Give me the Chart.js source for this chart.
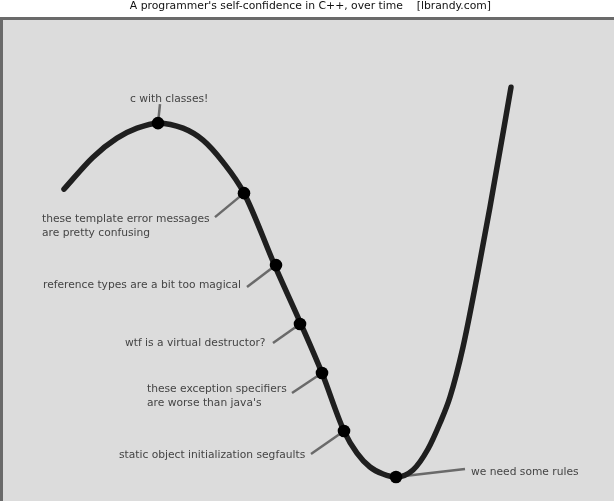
<!DOCTYPE html>
<html>
<head>
<meta charset="utf-8">
<script src="https://cdn.jsdelivr.net/npm/chart.js@4/dist/chart.umd.min.js"></script>
<style>
  html, body { margin: 0; padding: 0; background: #ffffff; }
  #c { display: block; }
</style>
</head>
<body>
<canvas id="c" width="614" height="501"></canvas>
<script>
// ---- data (time on x, confidence on y) ----
const curveX = [64, 93, 117, 137, 158, 183, 203, 223, 244, 275, 301, 322, 344, 357, 370, 383, 396, 413, 428, 440, 450, 463, 477, 490, 511];
const curveY = [312, 344, 363, 373, 378, 373, 361, 339, 308, 235, 177, 128, 70, 48, 34, 27, 24, 31, 52, 78, 104, 154, 224, 294, 414];

const eventX = [158, 244, 276, 300, 322, 344, 396];
const eventY = [378, 308, 236, 177, 128, 70, 24];
const eventText = [
  ["c with classes!"],
  ["these template error messages", "are pretty confusing"],
  ["reference types are a bit too magical"],
  ["wtf is a virtual destructor?"],
  ["these exception specifiers", "are worse than java's"],
  ["static object initialization segfaults"],
  ["we need some rules"]
];
// label anchor (left x, baseline of first line)
const labelX = [130, 42, 43, 125, 147, 119, 471];
const labelY = [399, 279, 213, 155, 109, 43, 26];
// leader line start points (end at the event point)
const leaderX = [160, 215, 247, 273, 292, 311, 465];
const leaderY = [397, 284, 214, 158, 108, 47, 32];

const titleText = "\u00a0\u00a0A programmer's self-confidence in C++, over time\u00a0\u00a0\u00a0\u00a0[lbrandy.com]";

const FONT = '"DejaVu Sans", "Liberation Sans", sans-serif';

const boxPlugin = {
  id: 'box',
  beforeDraw(chart) {
    const ctx = chart.ctx;
    const a = chart.chartArea;
    ctx.save();
    ctx.fillStyle = '#ffffff';
    ctx.fillRect(0, 0, chart.width, chart.height);
    ctx.fillStyle = '#dcdcdc';
    ctx.fillRect(0, Math.round(a.top), chart.width, chart.height);
    ctx.strokeStyle = '#6a6a6a';
    ctx.lineWidth = 3;
    ctx.beginPath();
    ctx.moveTo(1.5, chart.height + 5);
    ctx.lineTo(1.5, Math.round(a.top) + 1.5);
    ctx.lineTo(chart.width + 5, Math.round(a.top) + 1.5);
    ctx.stroke();
    ctx.restore();
  },
  beforeDatasetsDraw(chart) {
    const ctx = chart.ctx;
    const xs = chart.scales.x, ys = chart.scales.y;
    ctx.save();
    ctx.strokeStyle = '#6a6a6a';
    ctx.lineWidth = 2.5;
    for (let i = 0; i < eventX.length; i++) {
      ctx.beginPath();
      ctx.moveTo(xs.getPixelForValue(leaderX[i]), ys.getPixelForValue(leaderY[i]));
      ctx.lineTo(xs.getPixelForValue(eventX[i]), ys.getPixelForValue(eventY[i]));
      ctx.stroke();
    }
    ctx.restore();
  },
  afterDatasetsDraw(chart) {
    const ctx = chart.ctx;
    const xs = chart.scales.x, ys = chart.scales.y;
    ctx.save();
    ctx.fillStyle = '#444444';
    ctx.font = '10.7px ' + FONT;
    ctx.textAlign = 'left';
    ctx.textBaseline = 'alphabetic';
    for (let i = 0; i < eventText.length; i++) {
      const px = xs.getPixelForValue(labelX[i]);
      const py = ys.getPixelForValue(labelY[i]);
      eventText[i].forEach((line, j) => ctx.fillText(line, px, py + j * 14));
    }
    ctx.restore();
  }
};

new Chart(document.getElementById('c'), {
  type: 'line',
  data: {
    datasets: [
      {
        data: curveX.map((x, i) => ({ x: x, y: curveY[i] })),
        borderColor: '#1f1f1f',
        borderWidth: 5.5,
        pointRadius: 0,
        cubicInterpolationMode: 'monotone',
        borderCapStyle: 'round',
        borderJoinStyle: 'round',
        fill: false,
        clip: false,
        order: 2
      },
      {
        data: eventX.map((x, i) => ({ x: x, y: eventY[i] })),
        showLine: false,
        pointRadius: 6.3,
        pointBackgroundColor: '#000000',
        pointBorderWidth: 0,
        clip: false,
        order: 1
      }
    ]
  },
  options: {
    responsive: false,
    animation: false,
    devicePixelRatio: 1,
    layout: { padding: 0, autoPadding: false },
    scales: {
      x: { type: 'linear', display: false, min: 0, max: 614 },
      y: { type: 'linear', display: false, min: 0, max: 484 }
    },
    plugins: {
      legend: { display: false },
      tooltip: { enabled: false },
      title: {
        display: true,
        text: titleText,
        color: '#111111',
        font: { family: FONT, size: 10.8, weight: 'normal', lineHeight: 1.2 },
        padding: { top: 0, bottom: 4.24 }
      }
    }
  },
  plugins: [boxPlugin]
});
</script>
</body>
</html>
